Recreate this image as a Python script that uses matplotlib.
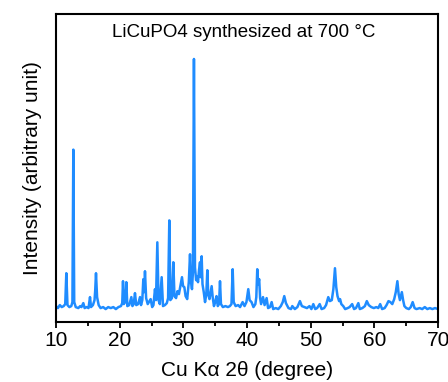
import matplotlib
matplotlib.use("Agg")
import matplotlib.pyplot as plt
from matplotlib.ticker import MultipleLocator

plt.rcParams['font.family'] = ['Liberation Sans', 'DejaVu Sans']

# XRD trace (2-theta in degrees, intensity in arbitrary units)
two_theta = [
    10.0, 10.3, 10.6, 10.9, 11.2, 11.45, 11.62, 11.8, 12.1, 12.4, 12.58, 12.72, 12.86,
    13.1, 13.5, 13.8, 14.0, 14.29, 14.5, 14.8, 15.1, 15.34, 15.5, 15.8, 16.05, 16.15,
    16.28, 16.45, 16.7, 17.0, 17.4, 17.8, 18.2, 18.6, 19.0, 19.4, 19.8, 20.2, 20.4,
    20.52, 20.65, 20.85, 21.04, 21.2, 21.5, 21.83, 22.0, 22.2, 22.4, 22.6, 22.9, 23.19,
    23.35, 23.55, 23.71, 23.85, 23.97, 24.15, 24.4, 24.86, 25.1, 25.3, 25.54, 25.7,
    25.91, 26.1, 26.3, 26.59, 26.8, 27.1, 27.4, 27.6, 27.79, 27.95, 28.2, 28.42, 28.6,
    28.85, 29.07, 29.3, 29.5, 29.78, 29.95, 30.15, 30.35, 30.6, 30.85, 31.04, 31.2,
    31.35, 31.5, 31.66, 31.82, 32.0, 32.1, 32.3, 32.45, 32.61, 32.72, 32.87, 33.0,
    33.2, 33.4, 33.6, 33.76, 33.9, 34.1, 34.44, 34.6, 34.8, 35.0, 35.2, 35.4, 35.6,
    35.75, 35.9, 36.2, 36.6, 37.0, 37.3, 37.55, 37.74, 37.9, 38.2, 38.6, 38.9, 39.3,
    39.6, 39.9, 40.19, 40.4, 40.7, 41.0, 41.3, 41.45, 41.6, 41.75, 41.9, 42.05, 42.2,
    42.5, 42.75, 43.07, 43.3, 43.6, 43.86, 44.1, 44.5, 44.9, 45.3, 45.6, 45.84, 46.1,
    46.5, 46.9, 47.1, 47.5, 47.9, 48.3, 48.6, 49.0, 49.4, 49.8, 50.1, 50.4, 50.7,
    51.0, 51.4, 51.7, 52.1, 52.4, 52.75, 53.0, 53.3, 53.55, 53.8, 54.0, 54.2, 54.45,
    54.6, 54.8, 55.1, 55.4, 55.8, 56.1, 56.5, 56.8, 57.1, 57.47, 57.7, 58.1, 58.5,
    58.8, 59.1, 59.5, 59.9, 60.3, 60.6, 60.9, 61.2, 61.6, 61.9, 62.2, 62.5, 62.8,
    63.1, 63.35, 63.6, 63.8, 64.0, 64.3, 64.5, 64.7, 65.0, 65.4, 65.7, 66.0, 66.3,
    66.6, 67.1, 67.5, 67.9, 68.3, 68.7, 69.1, 69.5, 70.0,
]
intensity = [
    16, 14, 17, 15, 16, 18, 49, 17, 15, 16, 20, 173, 20,
    15, 14, 16, 15, 19, 14, 15, 14, 25, 15, 17, 22, 31,
    49, 25, 17, 14, 15, 13, 15, 14, 15, 13, 15, 16, 19,
    41, 18, 20, 40, 16, 17, 25, 16, 18, 29, 17, 18, 25,
    17, 22, 43, 30, 51, 24, 18, 23, 15, 17, 33, 22,
    80, 22, 18, 45, 16, 17, 19, 24, 102, 22, 24, 60, 26,
    24, 31, 28, 35, 45, 36, 35, 26, 23, 40, 68, 40,
    33, 50, 264, 55, 42, 46, 40, 52, 60, 45, 66, 38,
    30, 20, 28, 52, 28, 23, 36, 25, 16, 20, 26, 16, 18,
    41, 18, 15, 16, 15, 16, 18, 53, 20, 16, 17, 15, 20,
    16, 20, 33, 22, 20, 15, 18, 25, 53, 38, 43, 24, 18,
    25, 17, 24, 14, 15, 20, 13, 14, 13, 16, 20, 26, 19,
    14, 13, 16, 13, 15, 21, 16, 15, 14, 16, 13, 18, 13,
    14, 18, 13, 14, 17, 25, 21, 22, 33, 54, 35, 26, 21,
    23, 18, 16, 13, 14, 15, 18, 13, 14, 19, 13, 14, 16,
    21, 17, 15, 14, 15, 14, 18, 13, 14, 17, 21, 20, 18,
    23, 30, 41, 28, 22, 30, 22, 16, 14, 13, 15, 20, 14,
    13, 14, 13, 15, 13, 14, 13, 14, 13,
]

fig = plt.figure(figsize=(4.48, 3.82), dpi=100)
ax = fig.add_axes([0.125, 0.157, 0.853, 0.806])

ax.plot(two_theta, intensity, color='#1f8cff', linewidth=1.8)

ax.set_xlim(10, 70)
ax.set_ylim(0, 309)
ax.xaxis.set_major_locator(MultipleLocator(10))
ax.xaxis.set_minor_locator(MultipleLocator(5))
ax.set_yticks([])
ax.tick_params(axis='x', which='major', direction='out', length=4.5, width=1.3,
               labelsize=15, pad=2)
ax.tick_params(axis='x', which='minor', direction='out', length=3, width=1.3)
for sp in ax.spines.values():
    sp.set_linewidth(1.5)

ax.set_xlabel('Cu K\u03b1 2\u03b8 (degree)', fontsize=15, labelpad=8)
ax.set_ylabel('Intensity (arbitrary unit)', fontsize=15, labelpad=10)
ax.text(0.49, 0.94, 'LiCuPO4 synthesized at 700 \u00b0C', transform=ax.transAxes,
        ha='center', va='center', fontsize=13.5)

fig.savefig('out.png', dpi=100)
